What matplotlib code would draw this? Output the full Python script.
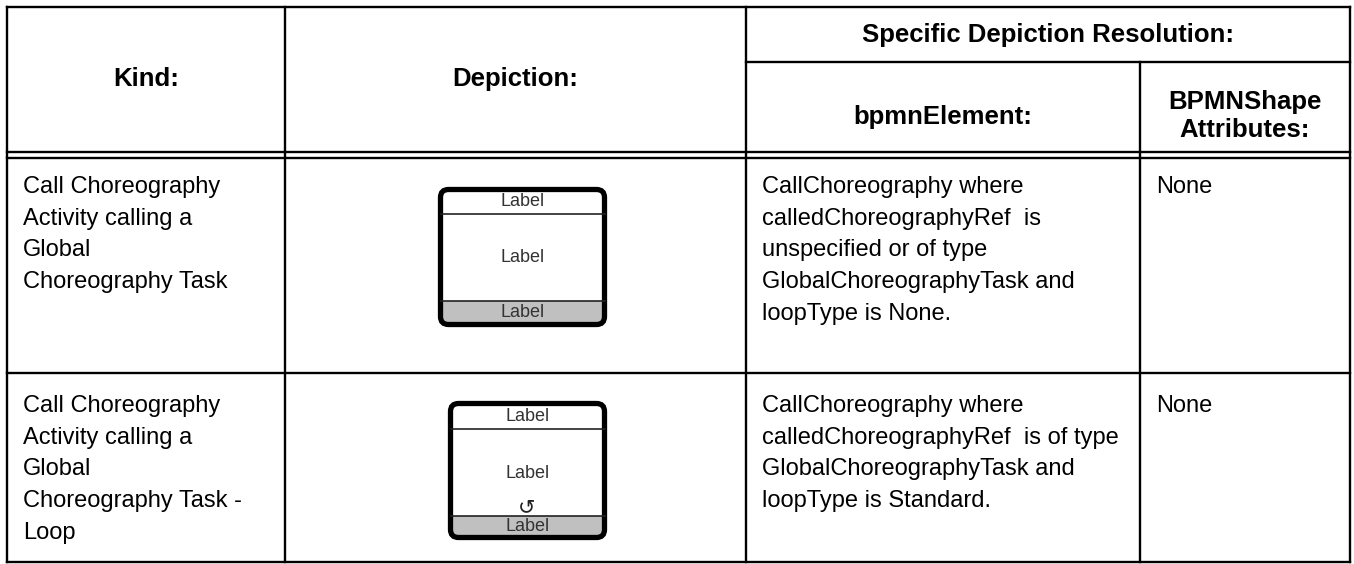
import matplotlib
matplotlib.use('Agg')
import matplotlib.pyplot as plt
from matplotlib.patches import FancyBboxPatch, Rectangle

plt.rcParams['font.family'] = ['Liberation Sans', 'DejaVu Sans']

# table content
kind_header = 'Kind:'
depiction_header = 'Depiction:'
group_header = 'Specific Depiction Resolution:'
element_header = 'bpmnElement:'
attr_header = ['BPMNShape', 'Attributes:']

kinds = [
    ['Call Choreography', 'Activity calling a', 'Global', 'Choreography Task'],
    ['Call Choreography', 'Activity calling a', 'Global', 'Choreography Task -', 'Loop'],
]
elements = [
    ['CallChoreography where', 'calledChoreographyRef  is', 'unspecified or of type',
     'GlobalChoreographyTask and', 'loopType is None.'],
    ['CallChoreography where', 'calledChoreographyRef  is of type',
     'GlobalChoreographyTask and', 'loopType is Standard.'],
]
attributes = ['None', 'None']
shape_labels = ['Label', 'Label', 'Label']
has_loop = [False, True]

# layout, in pixels of the 1354x564 picture
W, H = 1354, 564
col_x = [7, 285, 746, 1140, 1350]
top, sub_top, head_a, head_b = 7, 62, 152, 158
row_top = [158, 373]
bottom = 562
pad = 16
first_base = [193, 412]
step = 31.7
icons = [(440.5, 189.5, 164, 135), (450.5, 403.5, 154, 134)]
band_top = [24, 25]
band_bot = [24, 22]

fig = plt.figure(figsize=(W / 100, H / 100), dpi=100)
ax = fig.add_axes([0, 0, 1, 1])
ax.set_xlim(0, W)
ax.set_ylim(H, 0)
ax.axis('off')

lw = 1.7
kw = dict(color='black', lw=lw, solid_capstyle='projecting')
for y in [top, head_a, head_b, row_top[1], bottom]:
    ax.plot([col_x[0], col_x[-1]], [y, y], **kw)
ax.plot([col_x[2], col_x[4]], [sub_top, sub_top], **kw)
for x in [col_x[0], col_x[1], col_x[2], col_x[4]]:
    ax.plot([x, x], [top, bottom], **kw)
ax.plot([col_x[3], col_x[3]], [sub_top, bottom], **kw)

# headers
hfont = dict(fontsize=18.5, fontweight='bold', color='black', ha='center', va='baseline')
ax.text((col_x[0] + col_x[1]) / 2, 86, kind_header, **hfont)
ax.text((col_x[1] + col_x[2]) / 2, 86, depiction_header, **hfont)
ax.text((col_x[2] + col_x[4]) / 2, 42, group_header, **hfont)
ax.text((col_x[2] + col_x[3]) / 2, 124, element_header, **hfont)
ax.text((col_x[3] + col_x[4]) / 2, 109, attr_header[0], **hfont)
ax.text((col_x[3] + col_x[4]) / 2, 137, attr_header[1], **hfont)

# body rows
bfont = dict(fontsize=17, color='black', ha='left', va='baseline')
for r in range(len(kinds)):
    for j, line in enumerate(kinds[r]):
        ax.text(col_x[0] + pad, first_base[r] + j * step, line, **bfont)
    for j, line in enumerate(elements[r]):
        ax.text(col_x[2] + pad, first_base[r] + j * step, line, **bfont)
    ax.text(col_x[3] + pad, first_base[r], attributes[r], **bfont)

# choreography task shapes
lfont = dict(fontsize=13, color='#333333', ha='center', va='center')
for r, (x0, y0, w, h) in enumerate(icons):
    body = FancyBboxPatch((x0, y0), w, h, boxstyle='round,pad=0,rounding_size=8',
                          fc='white', ec='none')
    ax.add_patch(body)
    band = Rectangle((x0, y0 + h - band_bot[r]), w, band_bot[r], fc='#c0c0c0', ec='none')
    ax.add_patch(band)
    band.set_clip_path(body)
    ax.plot([x0, x0 + w], [y0 + band_top[r]] * 2, color='#222222', lw=1.2)
    ax.plot([x0, x0 + w], [y0 + h - band_bot[r]] * 2, color='#222222', lw=1.2)
    border = FancyBboxPatch((x0, y0), w, h, boxstyle='round,pad=0,rounding_size=8',
                            fc='none', ec='black', lw=3.8)
    ax.add_patch(border)
    cx = x0 + w / 2
    ax.text(cx, y0 + band_top[r] / 2 + 0.5, shape_labels[0], **lfont)
    ax.text(cx, y0 + (band_top[r] + h - band_bot[r]) / 2 + 1, shape_labels[1], **lfont)
    ax.text(cx, y0 + h - band_bot[r] / 2, shape_labels[2], **lfont)
    if has_loop[r]:
        ax.text(cx - 1, y0 + h - band_bot[r] - 8, '\u21ba', fontsize=15,
                family='DejaVu Sans', color='#222222', ha='center', va='center')

fig.savefig('out.png', dpi=100)
